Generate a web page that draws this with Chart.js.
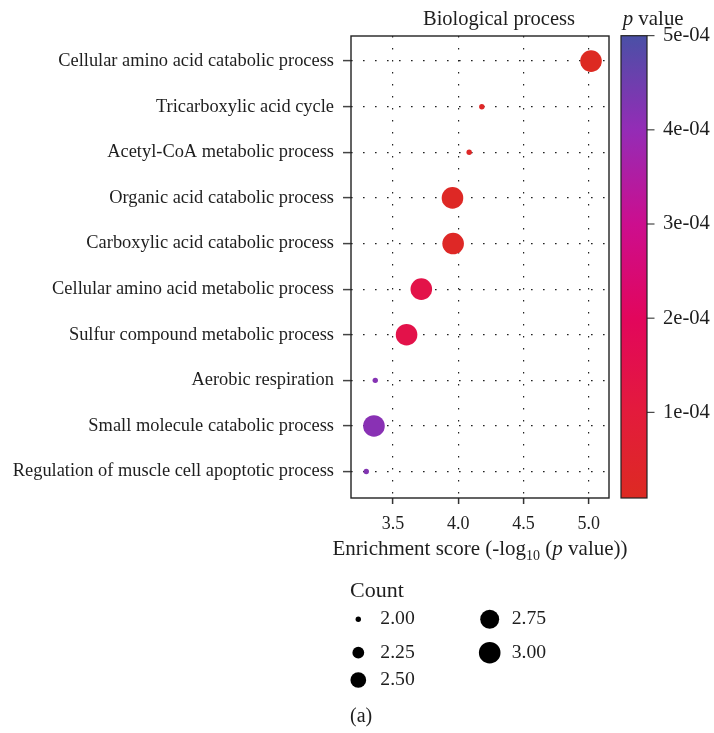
<!DOCTYPE html>
<html>
<head>
<meta charset="utf-8">
<script src="https://cdn.jsdelivr.net/npm/chart.js@4.4.1/dist/chart.umd.min.js"></script>
<style>
  html, body { margin: 0; padding: 0; background: #ffffff; }
  #wrap { width: 714px; height: 733px; position: relative; }
</style>
</head>
<body>
<div id="wrap"><canvas id="chart" width="714" height="733"></canvas></div>
<script>
// GO biological process terms, top to bottom
const terms = [
  'Cellular amino acid catabolic process',
  'Tricarboxylic acid cycle',
  'Acetyl-CoA metabolic process',
  'Organic acid catabolic process',
  'Carboxylic acid catabolic process',
  'Cellular amino acid metabolic process',
  'Sulfur compound metabolic process',
  'Aerobic respiration',
  'Small molecule catabolic process',
  'Regulation of muscle cell apoptotic process'
];
// Enrichment score, -log10(p value)
const enrichment = [5.018, 4.181, 4.084, 3.956, 3.961, 3.717, 3.604, 3.364, 3.354, 3.295];
// Number of genes in each term
const geneCount = [3, 2, 2, 3, 3, 3, 3, 2, 3, 2];
// p value used for the colour scale
const pValues = [1.0e-5, 2.5e-5, 2.8e-5, 2.0e-5, 2.2e-5, 1.4e-4, 1.45e-4, 4.2e-4, 4.15e-4, 4.25e-4];

const xTickValues = [3.5, 4.0, 4.5, 5.0];
const pTickValues = [1e-4, 2e-4, 3e-4, 4e-4, 5e-4];
const pTickLabels = ['1e-04', '2e-04', '3e-04', '4e-04', '5e-04'];
const pRange = [9e-6, 5e-4];
const countBreaks = [2.00, 2.25, 2.50, 2.75, 3.00];
const countBreakLabels = ['2.00', '2.25', '2.50', '2.75', '3.00'];
const countRange = [2, 3];

const FONT = '"Liberation Serif", "DejaVu Serif", serif';
const INK = '#1e1e1e';
const GRID_DOTS = [1.6, 10.4];

// colour ramp of the p value scale (red -> magenta -> purple -> blue)
const RAMP = [
  [9e-6, [221, 42, 34]],
  [1e-4, [227, 27, 60]],
  [2e-4, [226, 6, 92]],
  [3e-4, [204, 14, 142]],
  [4e-4, [148, 44, 182]],
  [5e-4, [74, 80, 166]]
];
function colorFor(p) {
  if (p <= RAMP[0][0]) return 'rgb(' + RAMP[0][1].join(',') + ')';
  for (let i = 1; i < RAMP.length; i++) {
    if (p <= RAMP[i][0]) {
      const [p0, c0] = RAMP[i - 1], [p1, c1] = RAMP[i];
      const t = (p - p0) / (p1 - p0);
      const c = c0.map((v, k) => Math.round(v + (c1[k] - v) * t));
      return 'rgb(' + c.join(',') + ')';
    }
  }
  return 'rgb(' + RAMP[RAMP.length - 1][1].join(',') + ')';
}

// bubble area grows linearly with gene count
const R_MIN = 2.7, R_MAX = 10.8;
function radiusFor(c) {
  const t = (c - countRange[0]) / (countRange[1] - countRange[0]);
  return Math.sqrt(R_MIN * R_MIN + t * (R_MAX * R_MAX - R_MIN * R_MIN));
}

function text(ctx, str, x, y, size, opts = {}) {
  ctx.save();
  ctx.font = (opts.italic ? 'italic ' : '') + size + 'px ' + FONT;
  ctx.fillStyle = opts.color || INK;
  ctx.textAlign = opts.align || 'left';
  ctx.textBaseline = opts.baseline || 'alphabetic';
  ctx.fillText(str, x, y);
  const w = ctx.measureText(str).width;
  ctx.restore();
  return w;
}
function measure(ctx, str, size, italic) {
  ctx.save();
  ctx.font = (italic ? 'italic ' : '') + size + 'px ' + FONT;
  const w = ctx.measureText(str).width;
  ctx.restore();
  return w;
}

const decor = {
  id: 'decor',
  afterDraw(chart) {
    const ctx = chart.ctx;
    const area = chart.chartArea;

    // panel border
    ctx.save();
    ctx.strokeStyle = '#222';
    ctx.lineWidth = 1.4;
    ctx.strokeRect(area.left, area.top, area.right - area.left, area.bottom - area.top);
    ctx.restore();

    // panel title
    text(ctx, 'Biological process', 499, 25, 20.5, { align: 'center' });

    // x axis title with subscript and italic p
    const s = 21, sub = 14;
    const parts = [
      ['Enrichment score (-log', s, false, 0],
      ['10', sub, false, 5],
      [' (', s, false, 0],
      ['p', s, true, 0],
      [' value))', s, false, 0]
    ];
    let total = 0;
    parts.forEach(p => { total += measure(ctx, p[0], p[1], p[2]); });
    let x = (area.left + area.right) / 2 - total / 2;
    parts.forEach(p => { x += text(ctx, p[0], x, 555 + p[3], p[1], { italic: p[2] }); });

    // colour bar
    const cb = { left: 621, right: 647, top: 35.7, bottom: 498 };
    const yOf = p => cb.bottom - (p - pRange[0]) / (pRange[1] - pRange[0]) * (cb.bottom - cb.top);
    const grad = ctx.createLinearGradient(0, cb.bottom, 0, cb.top);
    RAMP.forEach(([p, c]) => {
      const f = Math.min(1, Math.max(0, (p - pRange[0]) / (pRange[1] - pRange[0])));
      grad.addColorStop(f, 'rgb(' + c.join(',') + ')');
    });
    ctx.save();
    ctx.fillStyle = grad;
    ctx.fillRect(cb.left, cb.top, cb.right - cb.left, cb.bottom - cb.top);
    ctx.strokeStyle = '#222';
    ctx.lineWidth = 1.2;
    ctx.strokeRect(cb.left, cb.top, cb.right - cb.left, cb.bottom - cb.top);
    ctx.lineWidth = 1;
    pTickValues.forEach((p, i) => {
      const y = yOf(p);
      ctx.beginPath();
      ctx.moveTo(cb.right, y);
      ctx.lineTo(cb.right + 7.5, y);
      ctx.stroke();
      text(ctx, pTickLabels[i], 663, y, 20.6, { baseline: 'middle' });
    });
    ctx.restore();

    // colour bar title
    let tx = 622.7;
    tx += text(ctx, 'p', tx, 25, 20.9, { italic: true });
    text(ctx, ' value', tx, 25, 20.9);

    // size legend
    text(ctx, 'Count', 350, 591, 22, { baseline: 'middle' });
    const legendPos = [
      [358.3, 619.3], [358.3, 652.7], [358.3, 680],
      [489.7, 619.3], [489.7, 652.7]
    ];
    countBreaks.forEach((c, i) => {
      const [cx, cy] = legendPos[i];
      ctx.save();
      ctx.fillStyle = '#000';
      ctx.beginPath();
      ctx.arc(cx, cy, radiusFor(c), 0, Math.PI * 2);
      ctx.fill();
      ctx.restore();
      text(ctx, countBreakLabels[i], cx + 22, cy, 19.7, { baseline: 'middle' });
    });

    // panel tag
    text(ctx, '(a)', 350, 717, 20, { baseline: 'middle' });
  }
};

const ctx = document.getElementById('chart').getContext('2d');
new Chart(ctx, {
  type: 'bubble',
  data: {
    datasets: [{
      data: terms.map((t, i) => ({ x: enrichment[i], y: i + 1, r: radiusFor(geneCount[i]) })),
      backgroundColor: pValues.map(colorFor),
      borderWidth: 0,
      hoverBorderWidth: 0,
      hoverRadius: 0
    }]
  },
  options: {
    responsive: false,
    animation: false,
    events: [],
    layout: { padding: { top: 36, right: 105, left: 0, bottom: 0 } },
    plugins: { legend: { display: false }, tooltip: { enabled: false } },
    scales: {
      x: {
        type: 'linear',
        position: 'bottom',
        min: 3.178,
        max: 5.156,
        afterBuildTicks: s => { s.ticks = xTickValues.map(v => ({ value: v })); },
        afterFit: s => { s.height = 235; },
        border: { display: false, dash: GRID_DOTS },
        grid: {
          color: '#222', lineWidth: 1.2,
          drawTicks: true, tickLength: 6, tickColor: '#333', tickWidth: 1.5, tickBorderDash: []
        },
        ticks: {
          font: { family: FONT, size: 18 }, color: INK, padding: 9,
          maxRotation: 0, autoSkip: false,
          callback: v => Number(v).toFixed(1)
        }
      },
      y: {
        type: 'linear',
        position: 'left',
        reverse: true,
        min: 0.45,
        max: 10.58,
        afterBuildTicks: s => { s.ticks = terms.map((t, i) => ({ value: i + 1 })); },
        afterFit: s => { s.width = 351; },
        border: { display: false, dash: GRID_DOTS },
        grid: {
          color: '#222', lineWidth: 1.2,
          drawTicks: true, tickLength: 8, tickColor: '#444', tickWidth: 1.5, tickBorderDash: []
        },
        ticks: {
          font: { family: FONT, size: 18.4 }, color: INK, padding: 9,
          autoSkip: false,
          callback: v => terms[Math.round(v) - 1] || ''
        }
      }
    }
  },
  plugins: [decor]
});
</script>
</body>
</html>
